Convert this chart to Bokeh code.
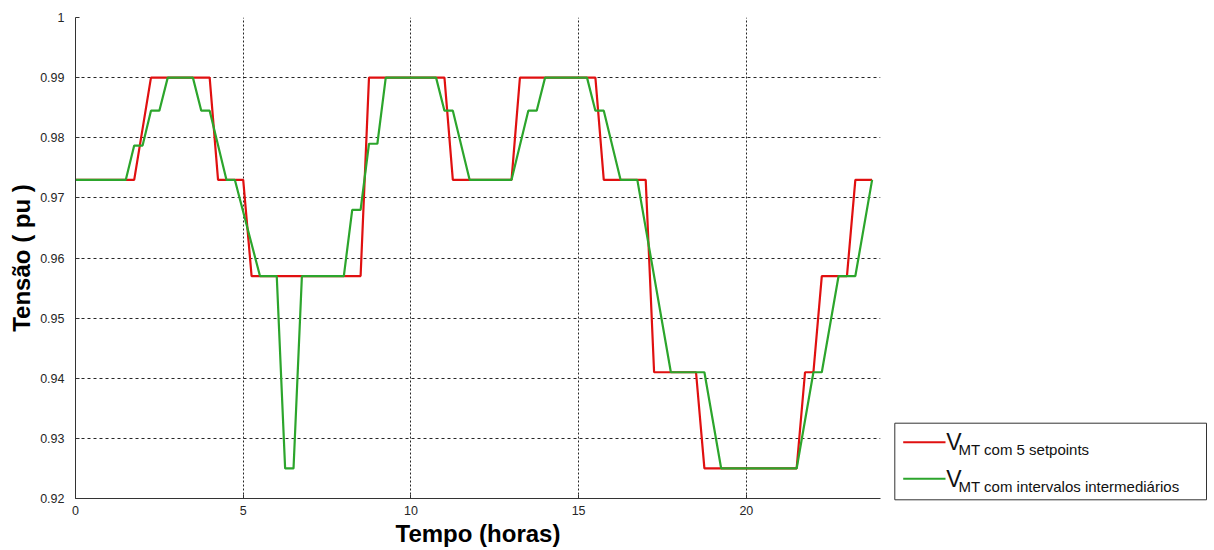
from bokeh.plotting import figure
from bokeh.models import Range1d, FixedTicker, CustomJSTickFormatter
from bokeh.layouts import row, column
from bokeh.embed import file_html
from bokeh.resources import INLINE
from bokeh.core.properties import value

# ---- data (hours, pu) ----
t_setpoints = [0, 1.75, 2.25, 4.0, 4.25, 5.0, 5.25, 8.5, 8.75, 11.0, 11.25, 13.0, 13.25,
               15.5, 15.75, 17.0, 17.25, 18.5, 18.75, 21.5, 21.75, 22.0, 22.25, 23.0, 23.25, 23.75]
v_setpoints = [0.973, 0.973, 0.99, 0.99, 0.973, 0.973, 0.957, 0.957, 0.99, 0.99, 0.973, 0.973, 0.99,
               0.99, 0.973, 0.973, 0.941, 0.941, 0.925, 0.925, 0.941, 0.941, 0.957, 0.957, 0.973, 0.973]

t_interm = [0, 1.5, 1.75, 2.0, 2.25, 2.5, 2.75, 3.5, 3.75, 4.0, 4.5, 4.75, 5.5, 6.0, 6.25, 6.5, 6.75,
            8.0, 8.25, 8.5, 8.75, 9.0, 9.25, 10.75, 11.0, 11.25, 11.75, 13.0, 13.5, 13.75, 14.0,
            15.25, 15.5, 15.75, 16.25, 16.75, 17.75, 18.75, 19.25, 21.5, 22.0, 22.25, 22.75, 23.25, 23.75]
v_interm = [0.973, 0.973, 0.9787, 0.9787, 0.9845, 0.9845, 0.99, 0.99, 0.9845, 0.9845, 0.973, 0.973, 0.957, 0.957, 0.925, 0.925, 0.957,
            0.957, 0.968, 0.968, 0.979, 0.979, 0.99, 0.99, 0.9845, 0.9845, 0.973, 0.973, 0.9845, 0.9845, 0.99,
            0.99, 0.9845, 0.9845, 0.973, 0.973, 0.941, 0.941, 0.925, 0.925, 0.941, 0.941, 0.957, 0.957, 0.973]

x_ticks = [0, 5, 10, 15, 20]
y_ticks = [0.92, 0.93, 0.94, 0.95, 0.96, 0.97, 0.98, 0.99, 1.0]
legend_labels = ["MT com 5 setpoints", "MT com intervalos intermediários"]

RED = "#e01010"
GREEN = "#2ca52c"
FONT = "Liberation Sans"
TXT = "#262626"

p = figure(width=884, height=550, output_backend="svg", toolbar_location=None,
           x_range=Range1d(0, 24), y_range=Range1d(0.92, 1.0),
           min_border_left=75, min_border_right=4, min_border_top=17, min_border_bottom=52)
p.outline_line_color = None

p.line(t_setpoints, v_setpoints, line_color=RED, line_width=2.2)
p.line(t_interm, v_interm, line_color=GREEN, line_width=2.2)

p.xaxis.ticker = FixedTicker(ticks=x_ticks)
p.yaxis.ticker = FixedTicker(ticks=y_ticks)
p.yaxis.formatter = CustomJSTickFormatter(code="return (Math.abs(tick-1)<1e-9) ? '1' : tick.toFixed(2);")

for ax in (p.xaxis[0], p.yaxis[0]):
    ax.axis_line_color = "#333333"
    ax.major_tick_line_color = "#333333"
    ax.major_tick_in = 4
    ax.major_tick_out = 0
    ax.minor_tick_line_color = None
    ax.major_label_text_font = FONT
    ax.major_label_text_font_size = "12.5px"
    ax.major_label_text_color = TXT
    ax.axis_label_text_font = FONT
    ax.axis_label_text_font_style = "bold"
    ax.axis_label_text_font_size = "24px"
    ax.axis_label_text_color = "#000000"

p.xaxis.axis_label = "Tempo (horas)"
p.yaxis.axis_label = "Tensão ( pu )"
p.xaxis.major_label_standoff = 7
p.yaxis.major_label_standoff = 11
p.xaxis.axis_label_standoff = 2
p.yaxis.axis_label_standoff = 2

p.xgrid.grid_line_color = "#000000"
p.xgrid.grid_line_dash = "2 2"
p.xgrid.grid_line_alpha = 0.85
p.ygrid.grid_line_color = "#000000"
p.ygrid.grid_line_dash = "3 3"
p.ygrid.grid_line_alpha = 0.85

# ---- legend panel: pixel-like coordinates (0..550 top-down) ----
leg = figure(width=330, height=550, output_backend="svg", toolbar_location=None,
             x_range=Range1d(0, 330), y_range=Range1d(550, 0),
             x_axis_location=None, y_axis_location=None,
             min_border_left=0, min_border_right=0,
             min_border_top=0, min_border_bottom=0)
leg.outline_line_color = None
leg.grid.visible = False

leg.quad(left=[10.3], right=[322], top=[422.7], bottom=[499.3],
         fill_color="white", line_color="#333333", line_width=1)
colors = [RED, GREEN]
ys = [441.7, 478.3]
for lab, c, yy in zip(legend_labels, colors, ys):
    leg.line([18.7, 61], [yy, yy], line_color=c, line_width=2)
    leg.text(x=[61.7], y=[yy], text=["V"], text_font=value(FONT),
             text_font_size="23px", text_baseline="alphabetic", text_align="left",
             text_color="#111111")
    leg.text(x=[74], y=[yy + 7.5], text=[lab], text_font=value(FONT),
             text_font_size="15px", text_baseline="alphabetic", text_align="left",
             text_color="#111111")

layout = row(p, column(leg))
open("out.html", "w").write(file_html(layout, INLINE))
